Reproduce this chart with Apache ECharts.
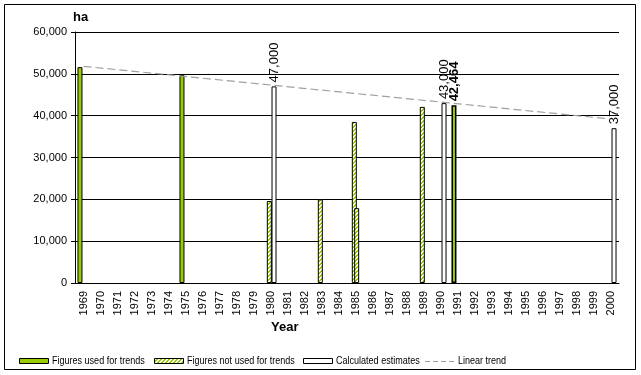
<!DOCTYPE html>
<html>
<head>
<meta charset="utf-8">
<script src="https://cdn.jsdelivr.net/npm/echarts@6/dist/echarts.min.js"></script>
<style>
    html, body { margin: 0; padding: 0; background: #fff; }
    #chart { width: 641px; height: 375px; }
</style>
</head>
<body>
<div id="chart"></div>
<script>
var years = ['1969', '1970', '1971', '1972', '1973', '1974', '1975', '1976', '1977', '1978',
    '1979', '1980', '1981', '1982', '1983', '1984', '1985', '1986', '1987', '1988',
    '1989', '1990', '1991', '1992', '1993', '1994', '1995', '1996', '1997', '1998',
    '1999', '2000'];

// [year, hectares]
var usedForTrends = [['1969', 51600], ['1975', 49700], ['1991', 42464]];
var notUsedA = [['1980', 19600], ['1983', 20000], ['1985', 38500], ['1989', 42100]];
var notUsedB = [['1985', 17900]];
var estimates = [['1980', 47000], ['1990', 43000], ['2000', 37000]];
var trendEnds = [['1969', 51800], ['2000', 39200]];

var yMin = 0, yMax = 60000, yStep = 10000;

var GREEN = '#99cc00';
var TREND = '#a0a0a0';
var FONT = 'Liberation Sans, Arial, sans-serif';

function fmt(v) {
    return Number(v).toLocaleString('en-US');
}

// diagonal hatch for "not used" bars
var hatch = document.createElement('canvas');
hatch.width = 4;
hatch.height = 4;
~function () {
    var c = hatch.getContext('2d');
    c.fillStyle = '#fff';
    c.fillRect(0, 0, 4, 4);
    c.fillStyle = GREEN;
    for (var i = 0; i < 4; i++) {
        c.fillRect(3 - i, i, 1, 1);
        c.fillRect((4 - i) % 4, i, 1, 1);
    }
}();
var hatchFill = {image: hatch, repeat: 'repeat'};

var labelStyle = {
    show: true,
    position: 'top',
    distance: 4,
    rotate: 90,
    align: 'left',
    verticalAlign: 'middle',
    fontFamily: FONT,
    fontSize: 13,
    color: '#000',
    formatter: function (p) { return fmt(p.value[1]); }
};

var greenData = usedForTrends.map(function (d) {
    if (d[0] === '1991') {
        return {
            value: d,
            itemStyle: {borderWidth: 1.5},
            label: Object.assign({}, labelStyle, {fontWeight: 'bold'})
        };
    }
    return d;
});

// legend drawn by hand: the original uses a narrow font
function legendText(x, text) {
    return {
        type: 'text', x: x, y: 361, scaleX: 0.82, silent: true,
        style: {text: text, x: 0, y: 0, font: '11px ' + FONT, fill: '#000', verticalAlign: 'middle'}
    };
}
function legendBox(x, fill) {
    return {
        type: 'rect', silent: true,
        shape: {x: x + 0.5, y: 358.5, width: 29, height: 5},
        style: {fill: fill, stroke: '#000', lineWidth: 1}
    };
}
var legendItems = [
    legendBox(19, GREEN), legendText(52, 'Figures used for trends'),
    legendBox(154, hatchFill), legendText(187, 'Figures not used for trends'),
    legendBox(303, '#fff'), legendText(336, 'Calculated estimates'),
    {
        type: 'line', silent: true,
        shape: {x1: 425, y1: 361.5, x2: 456, y2: 361.5},
        style: {stroke: TREND, lineWidth: 1.2, lineDash: [5, 3]}
    },
    legendText(458, 'Linear trend')
];

var myChart = echarts.init(document.getElementById('chart'), null, {renderer: 'canvas'});
var option = {
    animation: false,
    backgroundColor: '#fff',
    textStyle: {fontFamily: FONT},
    grid: {left: 75, right: 22, top: 32, bottom: 92, outerBoundsMode: 'none'},
    xAxis: {
        type: 'category',
        data: years,
        boundaryGap: true,
        axisLine: {lineStyle: {color: '#000', width: 1}},
        axisTick: {length: 4, interval: 0, lineStyle: {color: '#000'}},
        axisLabel: {
            interval: 0,
            rotate: 90,
            margin: 8,
            fontFamily: FONT,
            fontSize: 11,
            color: '#000'
        },
        splitLine: {show: false}
    },
    yAxis: {
        type: 'value',
        min: yMin,
        max: yMax,
        interval: yStep,
        name: 'ha',
        nameLocation: 'end',
        nameGap: 8,
        nameTextStyle: {align: 'left', fontWeight: 'bold', fontSize: 13, color: '#000', padding: [0, 0, 0, -2]},
        axisLine: {show: true, lineStyle: {color: '#000', width: 1}},
        axisTick: {show: true, length: 4, lineStyle: {color: '#000'}},
        axisLabel: {
            margin: 8,
            fontFamily: FONT,
            fontSize: 11,
            color: '#000',
            formatter: fmt
        },
        splitLine: {lineStyle: {color: '#000', width: 1}}
    },
    graphic: [
        {
            type: 'text',
            left: 271,
            top: 321,
            style: {text: 'Year', font: 'bold 13px ' + FONT, fill: '#000'}
        },
        {
            type: 'rect',
            shape: {x: 4.5, y: 4.5, width: 631, height: 365},
            style: {fill: null, stroke: '#000', lineWidth: 1},
            silent: true
        }
    ].concat(legendItems),
    series: [
        {
            name: 'Figures used for trends',
            type: 'bar',
            barWidth: 5,
            barGap: '-53%',
            itemStyle: {color: GREEN, borderColor: '#000', borderWidth: 1},
            data: greenData
        },
        {
            name: 'Figures not used for trends',
            type: 'bar',
            barWidth: 5,
            barGap: '-53%',
            itemStyle: {color: hatchFill, borderColor: '#000', borderWidth: 1},
            data: notUsedA
        },
        {
            name: 'Figures not used for trends',
            type: 'bar',
            barWidth: 5,
            barGap: '-53%',
            itemStyle: {color: hatchFill, borderColor: '#000', borderWidth: 1},
            data: notUsedB
        },
        {
            name: 'Calculated estimates',
            type: 'bar',
            barWidth: 5,
            barGap: '-53%',
            itemStyle: {color: '#fff', borderColor: '#000', borderWidth: 1},
            label: labelStyle,
            data: estimates
        },
        {
            name: 'Linear trend',
            type: 'line',
            symbol: 'none',
            z: 3,
            lineStyle: {color: TREND, width: 1.2, type: [8, 4]},
            itemStyle: {color: TREND},
            data: trendEnds
        }
    ]
};
myChart.setOption(option);
</script>
</body>
</html>
